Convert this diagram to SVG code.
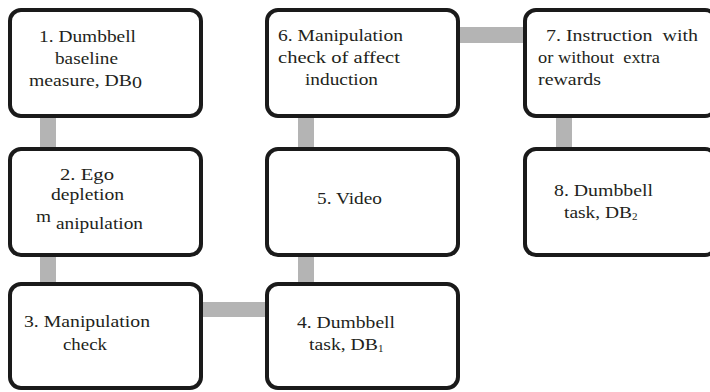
<svg xmlns="http://www.w3.org/2000/svg" width="710" height="392" viewBox="0 0 710 392">
<style>
.box{fill:#fff;stroke:#1a1a1a;stroke-width:4}
.conn{fill:#b4b4b4}
text{font-family:'Liberation Serif','Times New Roman',serif;font-size:16.5px;fill:#231f20;white-space:pre}
.sub{font-size:11px}
</style>
<rect width="710" height="392" fill="#fff"/>
<g id="connectors">
<rect class="conn" x="40" y="116" width="16" height="34"/>
<rect class="conn" x="40" y="255" width="16" height="30"/>
<rect class="conn" x="201" y="302" width="67" height="15"/>
<rect class="conn" x="298" y="255" width="16" height="30"/>
<rect class="conn" x="298" y="116" width="16" height="34"/>
<rect class="conn" x="458" y="27" width="68" height="16"/>
<rect class="conn" x="556" y="116" width="16" height="34"/>
</g>
<g id="node1">
<rect class="box" x="10" y="10" width="191" height="106" rx="11"/>
<text x="39" y="42" textLength="97" lengthAdjust="spacingAndGlyphs">1. Dumbbell</text>
<text x="55" y="64" textLength="63" lengthAdjust="spacingAndGlyphs">baseline</text>
<text x="29" y="86" textLength="103" lengthAdjust="spacingAndGlyphs">measure, DB</text>
<text x="132" y="88" textLength="10" lengthAdjust="spacingAndGlyphs">0</text>
</g>
<g id="node2">
<rect class="box" x="10" y="149" width="191" height="106" rx="11"/>
<text x="60" y="180" textLength="54" lengthAdjust="spacingAndGlyphs">2. Ego</text>
<text x="51" y="200" textLength="73" lengthAdjust="spacingAndGlyphs">depletion</text>
<text x="36" y="222" textLength="15" lengthAdjust="spacingAndGlyphs">m</text>
<text x="56" y="229" textLength="87" lengthAdjust="spacingAndGlyphs">anipulation</text>
</g>
<g id="node3">
<rect class="box" x="10" y="284" width="191" height="104" rx="11"/>
<text x="24" y="327" textLength="126" lengthAdjust="spacingAndGlyphs">3. Manipulation</text>
<text x="63" y="350" textLength="44" lengthAdjust="spacingAndGlyphs">check</text>
</g>
<g id="node4">
<rect class="box" x="267" y="284" width="191" height="104" rx="11"/>
<text x="297" y="328" textLength="98" lengthAdjust="spacingAndGlyphs">4. Dumbbell</text>
<text x="309" y="350" textLength="69" lengthAdjust="spacingAndGlyphs">task, DB</text>
<text x="378" y="352" class="sub">1</text>
</g>
<g id="node5">
<rect class="box" x="267" y="149" width="191" height="106" rx="11"/>
<text x="317" y="204" textLength="65" lengthAdjust="spacingAndGlyphs">5. Video</text>
</g>
<g id="node6">
<rect class="box" x="267" y="10" width="191" height="106" rx="11"/>
<text x="278" y="41" textLength="125" lengthAdjust="spacingAndGlyphs">6. Manipulation</text>
<text x="278" y="63" textLength="122" lengthAdjust="spacingAndGlyphs">check of affect</text>
<text x="305" y="85" textLength="73" lengthAdjust="spacingAndGlyphs">induction</text>
</g>
<g id="node7">
<rect class="box" x="525" y="10" width="191" height="106" rx="11"/>
<text x="546" y="41" textLength="152" lengthAdjust="spacingAndGlyphs">7. Instruction  with</text>
<text x="538" y="63" textLength="122" lengthAdjust="spacingAndGlyphs">or without  extra</text>
<text x="538" y="85" textLength="63" lengthAdjust="spacingAndGlyphs">rewards</text>
</g>
<g id="node8">
<rect class="box" x="525" y="149" width="191" height="106" rx="11"/>
<text x="554" y="196" textLength="99" lengthAdjust="spacingAndGlyphs">8. Dumbbell</text>
<text x="564" y="218" textLength="68" lengthAdjust="spacingAndGlyphs">task, DB</text>
<text x="632" y="220" class="sub">2</text>
</g>
</svg>
